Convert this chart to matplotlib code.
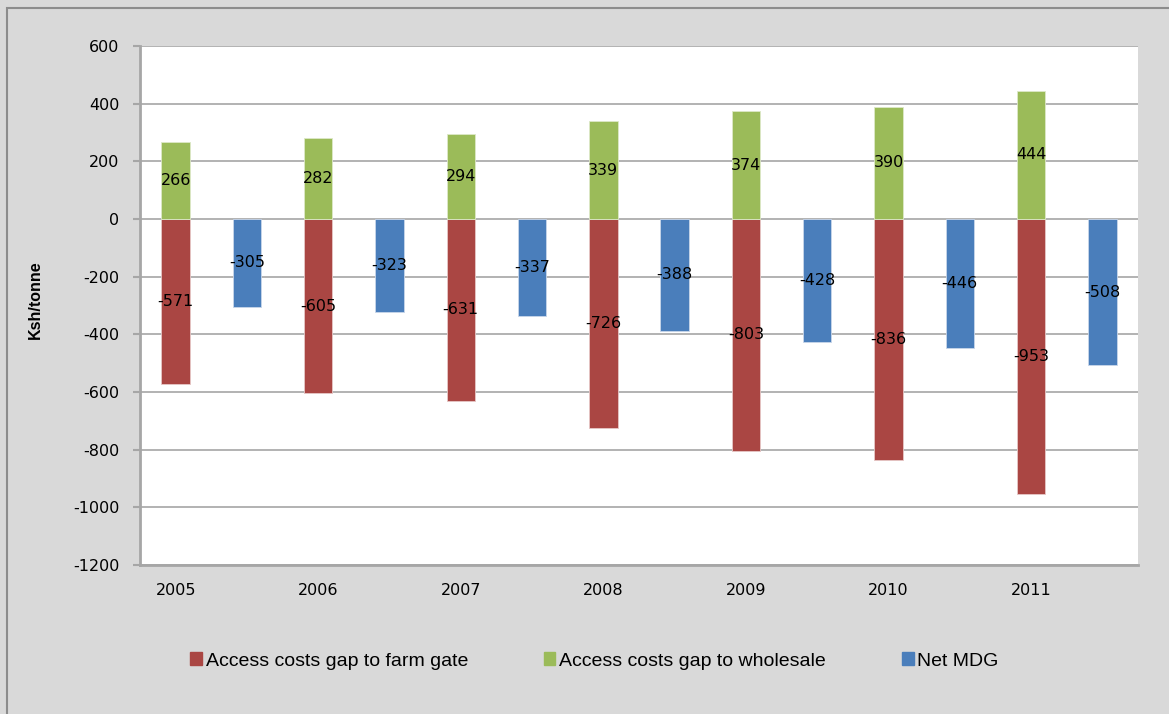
import numpy as np
import matplotlib.pyplot as plt
from matplotlib.patches import Rectangle, Patch

years = ['2005', '2006', '2007', '2008', '2009', '2010', '2011']
farm_gate = [-571, -605, -631, -726, -803, -836, -953]
wholesale = [266, 282, 294, 339, 374, 390, 444]
net_mdg = [-305, -323, -337, -388, -428, -446, -508]

c_red = '#AA4643'
c_green = '#9BBB59'
c_blue = '#4A7EBB'
bg = '#D9D9D9'
grid_c = '#A6A6A6'

plt.rcParams['font.family'] = ['DejaVu Sans']
plt.rcParams['axes.unicode_minus'] = False

fig = plt.figure(figsize=(11.69, 7.14), dpi=100, facecolor=bg)
ax = fig.add_axes([140 / 1169, 1 - 565 / 714, 998 / 1169, 519 / 714])
ax.set_facecolor('white')

# outer chart border
fig.patches.append(Rectangle((7 / 1169, -0.05), 1.2, 1 - 8 / 714 + 0.05,
                             transform=fig.transFigure, fill=False,
                             edgecolor='#8C8C8C', lw=1.5, zorder=0))

n = len(years)
x_year = np.arange(n) * 2
x_net = x_year + 1
w = 0.4

ax.bar(x_year, farm_gate, w, color=c_red, edgecolor='#E6C8C7', lw=0.6, zorder=3)
ax.bar(x_year, wholesale, w, color=c_green, edgecolor='#DDE8C8', lw=0.6, zorder=3)
ax.bar(x_net, net_mdg, w, color=c_blue, edgecolor='#C8D6EA', lw=0.6, zorder=3)

for xs, vals in ((x_year, farm_gate), (x_year, wholesale), (x_net, net_mdg)):
    for xi, v in zip(xs, vals):
        ax.text(xi, v / 2, str(v), ha='center', va='center', fontsize=11.5,
                color='black', zorder=4)

ax.set_xlim(-0.5, 2 * n - 0.5)
ax.set_ylim(-1200, 600)
ax.set_yticks(np.arange(-1200, 601, 200))
ax.set_xticks(x_year)
ax.set_xticklabels(years)
ax.yaxis.grid(True, color=grid_c, lw=1.2, zorder=0)
ax.set_axisbelow(True)

for s in ('top', 'right'):
    ax.spines[s].set_visible(False)
for s in ('left', 'bottom'):
    ax.spines[s].set_color(grid_c)
    ax.spines[s].set_linewidth(2)
ax.tick_params(axis='y', length=5, width=1.5, color=grid_c, pad=10, labelsize=11.5)
ax.tick_params(axis='x', length=0, pad=13, labelsize=11.5)

fig.text(35 / 1169, 1 - 300 / 714, 'Ksh/tonne', rotation=90, ha='center',
         va='center', fontsize=11.5, fontweight='bold', family='Liberation Sans')

handles = [Patch(color=c_red), Patch(color=c_green), Patch(color=c_blue)]
labels = ['Access costs gap to farm gate', 'Access costs gap to wholesale', 'Net MDG']
fig.legend(handles, labels, loc='center left', bbox_to_anchor=(190 / 1169, 1 - 661 / 714),
           ncol=3, frameon=False, handlelength=0.6, handleheight=0.6,
           handletextpad=0.2, columnspacing=3.9, borderpad=0, borderaxespad=0,
           prop={'family': 'Liberation Sans', 'size': 14})

fig.savefig('out.png', dpi=100, facecolor=bg)
